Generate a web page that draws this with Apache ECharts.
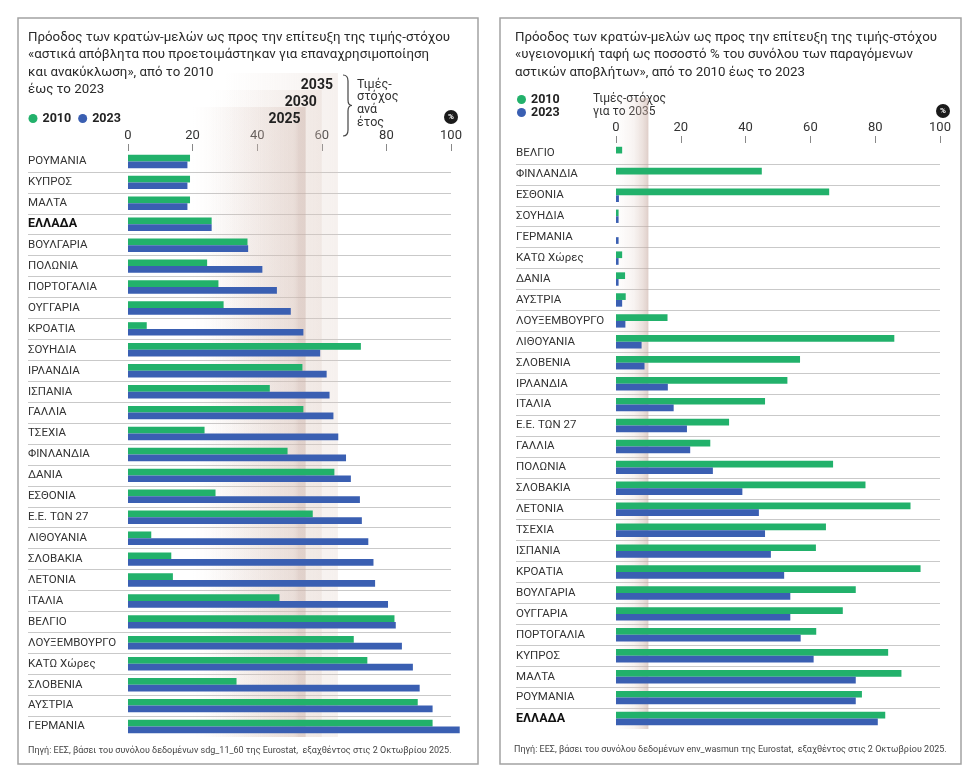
<!DOCTYPE html>
<html>
<head>
<meta charset="utf-8">
<script src="https://cdn.jsdelivr.net/npm/echarts@6/dist/echarts.min.js"></script>
<style>
html,body{margin:0;padding:0;background:#fff;}
#chart{width:980px;height:784px;}
</style>
</head>
<body>
<div id="chart"></div>
<script>
// ---------- DATA ----------
const leftCategories = ['ΡΟΥΜΑΝΙΑ','ΚΥΠΡΟΣ','ΜΑΛΤΑ','ΕΛΛΑΔΑ','ΒΟΥΛΓΑΡΙΑ','ΠΟΛΩΝΙΑ','ΠΟΡΤΟΓΑΛΙΑ','ΟΥΓΓΑΡΙΑ','ΚΡΟΑΤΙΑ','ΣΟΥΗΔΙΑ','ΙΡΛΑΝΔΙΑ','ΙΣΠΑΝΙΑ','ΓΑΛΛΙΑ','ΤΣΕΧΙΑ','ΦΙΝΛΑΝΔΙΑ','ΔΑΝΙΑ','ΕΣΘΟΝΙΑ','Ε.Ε. ΤΩΝ 27','ΛΙΘΟΥΑΝΙΑ','ΣΛΟΒΑΚΙΑ','ΛΕΤΟΝΙΑ','ΙΤΑΛΙΑ','ΒΕΛΓΙΟ','ΛΟΥΞΕΜΒΟΥΡΓΟ','ΚΑΤΩ Χώρες','ΣΛΟΒΕΝΙΑ','ΑΥΣΤΡΙΑ','ΓΕΡΜΑΝΙΑ'];
const left2010 = [19.2,19.2,19.2,25.9,37.0,24.5,28.0,29.6,5.8,72.1,54.0,43.9,54.3,23.7,49.4,63.9,27.1,57.2,7.2,13.4,13.9,46.9,82.5,69.9,74.1,33.6,89.7,94.3];
const left2023 = [18.4,18.4,18.4,25.9,37.2,41.6,46.1,50.4,54.3,59.5,61.5,62.4,63.6,65.1,67.5,69.0,71.8,72.4,74.4,76.0,76.5,80.5,82.9,84.8,88.2,90.3,94.3,102.7];
const leftTargetYears = ['2035','2030','2025'];
const leftTargetValues = [65,60,55];

const rightCategories = ['ΒΕΛΓΙΟ','ΦΙΝΛΑΝΔΙΑ','ΕΣΘΟΝΙΑ','ΣΟΥΗΔΙΑ','ΓΕΡΜΑΝΙΑ','ΚΑΤΩ Χώρες','ΔΑΝΙΑ','ΑΥΣΤΡΙΑ','ΛΟΥΞΕΜΒΟΥΡΓΟ','ΛΙΘΟΥΑΝΙΑ','ΣΛΟΒΕΝΙΑ','ΙΡΛΑΝΔΙΑ','ΙΤΑΛΙΑ','Ε.Ε. ΤΩΝ 27','ΓΑΛΛΙΑ','ΠΟΛΩΝΙΑ','ΣΛΟΒΑΚΙΑ','ΛΕΤΟΝΙΑ','ΤΣΕΧΙΑ','ΙΣΠΑΝΙΑ','ΚΡΟΑΤΙΑ','ΒΟΥΛΓΑΡΙΑ','ΟΥΓΓΑΡΙΑ','ΠΟΡΤΟΓΑΛΙΑ','ΚΥΠΡΟΣ','ΜΑΛΤΑ','ΡΟΥΜΑΝΙΑ','ΕΛΛΑΔΑ'];
const right2010 = [1.9,45.0,65.8,0.8,0,1.9,2.8,3.0,15.9,85.9,56.8,52.9,46.0,34.9,29.1,67.0,77.0,90.9,64.8,61.7,94.0,74.0,70.0,61.8,84.0,88.1,75.9,83.1];
const right2023 = [0,0,0.9,0.8,0.8,0.8,0.8,1.9,2.9,7.9,8.8,16.0,17.8,21.9,22.9,29.9,39.0,44.1,46.0,47.8,51.9,53.8,53.8,57.0,61.0,74.0,74.0,80.8];
const rightTargetValue = 10;

const seriesNames = ['2010','2023'];
const axisMin = 0, axisMax = 100, axisStep = 20;

const leftTitle = 'Πρόοδος των κρατών-μελών ως προς την επίτευξη της τιμής-στόχου\n«αστικά απόβλητα που προετοιμάστηκαν για επαναχρησιμοποίηση\nκαι ανακύκλωση», από το 2010\nέως το 2023';
const rightTitle = 'Πρόοδος των κρατών-μελών ως προς την επίτευξη της τιμής-στόχου\n«υγειονομική ταφή ως ποσοστό % του συνόλου των παραγόμενων\nαστικών αποβλήτων», από το 2010 έως το 2023';
const leftSource = 'Πηγή: ΕΕΣ, βάσει του συνόλου δεδομένων sdg_11_60 της Eurostat,  εξαχθέντος στις 2 Οκτωβρίου 2025.';
const rightSource = 'Πηγή: ΕΕΣ, βάσει του συνόλου δεδομένων env_wasmun της Eurostat,  εξαχθέντος στις 2 Οκτωβρίου 2025.';

// ---------- STYLE ----------
const FONT = 'Roboto, "Noto Sans", sans-serif';
const GREEN = '#22b16b';
const BLUE = '#3a5fb2';
const TEXT = '#2a2a2a';

const chart = echarts.init(document.getElementById('chart'), null, {renderer: 'canvas'});

function catLabel(v) {
  return v === 'ΕΛΛΑΔΑ' ? '{b|' + v + '}' : v;
}

function barAxisX(grid) {
  return {
    gridIndex: grid, type: 'value', min: axisMin, max: axisMax, interval: axisStep,
    position: 'top',
    axisLine: {show: false},
    axisTick: {show: true, length: 7, lineStyle: {color: '#888', width: 1}},
    axisLabel: {show: true, margin: 9, fontSize: 13, color: '#333', fontFamily: FONT},
    splitLine: {show: false}
  };
}
function barAxisY(grid, cats) {
  return {
    gridIndex: grid, type: 'category', data: cats, inverse: true,
    axisLine: {show: false}, axisTick: {show: false}, splitLine: {show: false},
    axisLabel: {
      show: true, align: 'left', margin: 100, fontSize: 11.5, color: '#333', fontFamily: FONT,
      interval: 0, formatter: catLabel,
      rich: {b: {fontWeight: 'bold', color: '#111', fontSize: 12.5, fontFamily: FONT}}
    }
  };
}
function sepAxisX(grid) {
  return {gridIndex: grid, type: 'value', min: 0, max: 1, show: false};
}
function sepAxisY(grid, cats) {
  return {
    gridIndex: grid, type: 'category', data: cats, inverse: true,
    axisLine: {show: false}, axisTick: {show: false}, axisLabel: {show: false},
    splitLine: {show: true, interval: 0, showMinLine: false, showMaxLine: false,
      lineStyle: {color: '#c9c9c9', width: 1}}
  };
}

const bandTops = [73, 90, 107];
const leftBands = leftTargetYears.map((yr, i) => {
  const strong = i === 2;
  return [
    {name: yr, xAxis: leftTargetValues[i] - 35, y: bandTops[i],
     itemStyle: {color: {type: 'linear', x: 0, y: 0, x2: 1, y2: 0, colorStops: strong ? [
        {offset: 0, color: 'rgba(215,190,180,0)'},
        {offset: 0.9, color: 'rgba(210,185,175,0.3)'},
        {offset: 0.94, color: 'rgba(200,172,162,0.4)'},
        {offset: 1, color: 'rgba(200,172,162,0.42)'}
      ] : [
        {offset: 0, color: 'rgba(220,200,190,0)'},
        {offset: 1, color: 'rgba(220,200,190,0.26)'}
      ]}}},
    {xAxis: leftTargetValues[i], y: 737}
  ];
});

const barCommon = {type: 'bar', barWidth: 6.7, barGap: '0%', clip: false, silent: true,
  emphasis: {disabled: true}, animation: false, z: 3};

const braceStyle = {fill: 'none', stroke: '#444', lineWidth: 1.2};

const option = {
  animation: false,
  textStyle: {fontFamily: FONT},
  title: [
    {text: leftTitle, left: 28, top: 29, padding: 0, textStyle: {fontSize: 13.3, fontWeight: 'normal', color: TEXT, lineHeight: 17.3, fontFamily: FONT}},
    {text: rightTitle, left: 515, top: 29, padding: 0, textStyle: {fontSize: 13.3, fontWeight: 'normal', color: TEXT, lineHeight: 17.3, fontFamily: FONT}}
  ],
  legend: [
    {data: seriesNames, left: 28.5, top: 112, padding: 0, icon: 'circle', itemWidth: 9, itemHeight: 9, itemGap: 7,
     selectedMode: false, textStyle: {fontWeight: 'bold', fontSize: 12.5, color: '#222', fontFamily: FONT}},
    {data: seriesNames, orient: 'vertical', left: 517, top: 93, padding: 0, icon: 'circle', itemWidth: 9, itemHeight: 9, itemGap: 0,
     selectedMode: false, textStyle: {fontWeight: 'bold', fontSize: 12.5, lineHeight: 12, color: '#222', fontFamily: FONT}}
  ],
  grid: [
    {left: 128, top: 151, width: 323, height: 586},
    {left: 28, top: 151, width: 423, height: 586},
    {left: 616, top: 143, width: 324, height: 586},
    {left: 516, top: 143, width: 424, height: 586}
  ],
  xAxis: [barAxisX(0), sepAxisX(1), barAxisX(2), sepAxisX(3)],
  yAxis: [barAxisY(0, leftCategories), sepAxisY(1, leftCategories), barAxisY(2, rightCategories), sepAxisY(3, rightCategories)],
  series: [
    Object.assign({}, barCommon, {name: seriesNames[0], xAxisIndex: 0, yAxisIndex: 0, data: left2010, itemStyle: {color: GREEN},
      markArea: {silent: true, z: 1,
        label: {show: true, position: 'insideTopRight', distance: 5, fontSize: 14, fontWeight: 'bold', color: '#222', fontFamily: FONT},
        data: leftBands}}),
    Object.assign({}, barCommon, {name: seriesNames[1], xAxisIndex: 0, yAxisIndex: 0, data: left2023, itemStyle: {color: BLUE}}),
    Object.assign({}, barCommon, {name: seriesNames[0], xAxisIndex: 2, yAxisIndex: 2, data: right2010, itemStyle: {color: GREEN},
      markArea: {silent: true, z: 1, label: {show: false},
        data: [[
          {xAxis: 0, y: 98, itemStyle: {color: {type: 'linear', x: 0, y: 0, x2: 1, y2: 0, colorStops: [
            {offset: 0, color: 'rgba(215,190,180,0)'},
            {offset: 0.55, color: 'rgba(215,190,180,0.18)'},
            {offset: 0.85, color: 'rgba(205,178,168,0.42)'},
            {offset: 1, color: 'rgba(195,165,155,0.55)'}]}}},
          {xAxis: rightTargetValue, y: 729}
        ]]}}),
    Object.assign({}, barCommon, {name: seriesNames[1], xAxisIndex: 2, yAxisIndex: 2, data: right2023, itemStyle: {color: BLUE}})
  ],
  graphic: [
    {type: 'rect', shape: {x: 18, y: 18, width: 460, height: 746}, style: {fill: 'none', stroke: '#a3a3a3', lineWidth: 1.5}, silent: true},
    {type: 'rect', shape: {x: 500, y: 18, width: 461, height: 746}, style: {fill: 'none', stroke: '#a3a3a3', lineWidth: 1.5}, silent: true},
    {type: 'bezierCurve', shape: {x1: 343, y1: 75, cpx1: 348, cpy1: 75, x2: 348, y2: 81}, style: braceStyle, silent: true},
    {type: 'line', shape: {x1: 348, y1: 81, x2: 348, y2: 100}, style: braceStyle, silent: true},
    {type: 'bezierCurve', shape: {x1: 348, y1: 100, cpx1: 348, cpy1: 105.5, x2: 352, y2: 105.5}, style: braceStyle, silent: true},
    {type: 'bezierCurve', shape: {x1: 352, y1: 105.5, cpx1: 348, cpy1: 105.5, x2: 348, y2: 111}, style: braceStyle, silent: true},
    {type: 'line', shape: {x1: 348, y1: 111, x2: 348, y2: 130}, style: braceStyle, silent: true},
    {type: 'bezierCurve', shape: {x1: 348, y1: 130, cpx1: 348, cpy1: 136, x2: 343, y2: 136}, style: braceStyle, silent: true},
    {type: 'text', left: 357, top: 78, style: {text: 'Τιμές-\nστόχος\nανά\nέτος', fontSize: 12.5, lineHeight: 12.7, fill: '#333', fontFamily: FONT}, silent: true},
    {type: 'text', left: 593, top: 93, style: {text: 'Τιμές-στόχος\nγια το 2035', fontSize: 12, lineHeight: 12.5, fill: '#333', fontFamily: FONT}, silent: true},
    {type: 'circle', shape: {cx: 451, cy: 117, r: 7}, style: {fill: '#1a1a1a'}, silent: true},
    {type: 'text', x: 451, y: 117, style: {text: '%', fontSize: 8, fontWeight: 'bold', fill: '#fff', align: 'center', verticalAlign: 'middle', fontFamily: FONT}, silent: true},
    {type: 'circle', shape: {cx: 943, cy: 111, r: 7}, style: {fill: '#1a1a1a'}, silent: true},
    {type: 'text', x: 943, y: 111, style: {text: '%', fontSize: 8, fontWeight: 'bold', fill: '#fff', align: 'center', verticalAlign: 'middle', fontFamily: FONT}, silent: true},
    {type: 'text', left: 28, top: 746, style: {text: leftSource, fontSize: 9, fill: '#444', fontFamily: FONT}, silent: true},
    {type: 'text', left: 514, top: 745, style: {text: rightSource, fontSize: 9, fill: '#444', fontFamily: FONT}, silent: true}
  ]
};
chart.setOption(option);
</script>
</body>
</html>
